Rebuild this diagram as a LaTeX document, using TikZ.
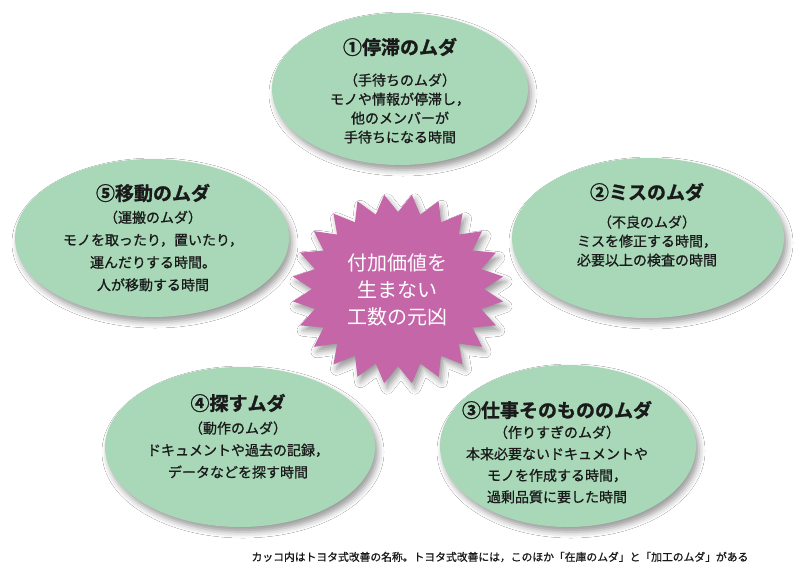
\documentclass[tikz,border=0pt]{standalone}
\usepackage{fontspec}
\setmainfont{Noto Sans CJK JP}
\newfontfamily\medfont[FakeBold=0.9]{Noto Sans CJK JP}
\newfontfamily\ttlfont[UprightFont=*, BoldFont=*, BoldFeatures={FakeBold=1.2}]{Noto Sans CJK JP Bold}
\usetikzlibrary{shapes.geometric,shadows.blur}
\definecolor{mudagreen}{HTML}{A8D8B8}
\definecolor{starpink}{HTML}{C566A8}
\definecolor{inkc}{HTML}{1A1A1A}
\begin{document}
\begin{tikzpicture}[x=1pt,y=-1pt,
  softshadow/.style={blur shadow={shadow xshift=3pt, shadow yshift=-5pt, shadow blur radius=6pt, shadow opacity=40}},
  muda/.style={ellipse, fill=mudagreen, inner sep=0pt, softshadow},
  ttl/.style={font=\fontsize{19}{22}\selectfont\ttlfont\bfseries, text=inkc, inner sep=0pt},
  bodytxt/.style={font=\fontsize{14}{#1}\selectfont\medfont, text=inkc, align=center, inner sep=0pt},
  bodytxt/.default=20,
  startxt/.style={font=\fontsize{20}{27}\selectfont, text=white, align=center, inner sep=0pt},
  foot/.style={font=\fontsize{10.8}{12}\selectfont\medfont, text=inkc, inner sep=0pt}]
\useasboundingbox[fill=white] (0,0) rectangle (800,576);

% ellipses
\node[muda, minimum width=256pt, minimum height=152pt] (e1) at (400,89) {};
\node[muda, minimum width=272pt, minimum height=160pt] (e2) at (648,238) {};
\node[muda, minimum width=256pt, minimum height=162pt] (e3) at (568,446) {};
\node[muda, minimum width=270pt, minimum height=160pt] (e4) at (240,447) {};
\node[muda, minimum width=274pt, minimum height=158pt] (e5) at (152,238) {};

% star
\coordinate (sc) at (398,289);
\path[fill=starpink, softshadow] plot[samples=49, domain=0:48, variable=\i]
  ({398+(mod(\i,2)<0.5 ? 106 : 86)*cos(\i*7.5+97.5)},
   {289-(mod(\i,2)<0.5 ? 95 : 77)*sin(\i*7.5+97.5)}) -- cycle;
\node[startxt] (st) at (397.5,289.5) {付加価値を\\生まない\\工数の元凶};

% texts
\node[ttl] (t1) at (400,47) {①停滞のムダ};
\node[bodytxt=19] (b1) at (400,108.5) {（手待ちのムダ）\\モノや情報が停滞し，\\他のメンバーが\\手待ちになる時間};

\node[ttl] (t2) at (647,192) {②ミスのムダ};
\node[bodytxt=19] (b2) at (647,241) {（不良のムダ）\\ミスを修正する時間，\\必要以上の検査の時間};

\node[ttl] (t3) at (557,410) {③仕事そのもののムダ};
\node[bodytxt=21.5] (b3) at (557,464.5) {（作りすぎのムダ）\\本来必要ないドキュメントや\\モノを作成する時間，\\過剰品質に要した時間};

\node[ttl] (t4) at (238,403) {④探すムダ};
\node[bodytxt=22] (b4) at (238,450) {（動作のムダ）\\ドキュメントや過去の記録，\\データなどを探す時間};

\node[ttl] (t5) at (153,193) {⑤移動のムダ};
\node[bodytxt=22.5] (b5) at (153,251) {（運搬のムダ）\\モノを取ったり，置いたり，\\運んだりする時間。\\人が移動する時間};

\node[foot] (fn) at (500,557) {カッコ内はトヨタ式改善の名称。トヨタ式改善には，このほか「在庫のムダ」と「加工のムダ」がある};
\end{tikzpicture}
\end{document}
